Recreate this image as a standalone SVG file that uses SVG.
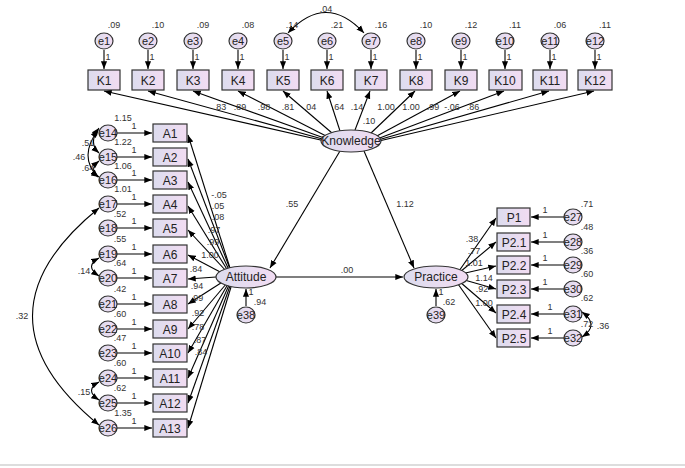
<svg xmlns="http://www.w3.org/2000/svg" width="685" height="468" viewBox="0 0 685 468">
<defs>
<linearGradient id="g" x1="0" y1="0" x2="1" y2="0"><stop offset="0" stop-color="#dcdcee"/><stop offset="1" stop-color="#f2dcf2"/></linearGradient>
<marker id="a" viewBox="0 0 10 10" refX="10" refY="5" markerWidth="7" markerHeight="7" orient="auto-start-reverse"><path d="M0,1 L10,5 L0,9 z" fill="#000"/></marker>
</defs>
<style>
rect{fill:url(#g);stroke:#333;stroke-width:1.2}
ellipse{fill:url(#g);stroke:#333;stroke-width:1.2}
text{font-family:"Liberation Sans",Arial,sans-serif;font-size:12px;fill:#222;text-anchor:middle}
.s{font-size:9px;fill:#333}
.e{font-size:11px}
#conn path,#conn line{stroke:#000;stroke-width:1.1;fill:none;marker-end:url(#a)}
#conn .c{marker-start:url(#a)}
</style>
<rect x="0" y="0" width="685" height="468" fill="#fff" style="fill:#fff;stroke:none"/>
<line x1="0" y1="465" x2="685" y2="465" stroke="#bbb"/>
<g id="conn">
<line x1="325" y1="141" x2="104" y2="91"/><line x1="326" y1="140" x2="148" y2="91"/><line x1="327" y1="139" x2="193" y2="91"/><line x1="328" y1="137" x2="238" y2="91"/><line x1="332" y1="133" x2="283" y2="91"/>
<line x1="340" y1="131" x2="327" y2="91"/><line x1="355" y1="130" x2="370" y2="91"/>
<line x1="370" y1="134" x2="415" y2="91"/><line x1="375" y1="137" x2="460" y2="91"/><line x1="377" y1="139" x2="504" y2="91"/><line x1="378" y1="140" x2="549" y2="91"/><line x1="379" y1="141" x2="594" y2="91"/>
<line x1="104" y1="50" x2="104" y2="69"/><line x1="148" y1="50" x2="148" y2="69"/><line x1="193" y1="50" x2="193" y2="69"/><line x1="238" y1="50" x2="238" y2="69"/><line x1="283" y1="50" x2="283" y2="69"/><line x1="327" y1="50" x2="327" y2="69"/><line x1="371" y1="50" x2="371" y2="69"/><line x1="416" y1="50" x2="416" y2="69"/><line x1="461" y1="50" x2="461" y2="69"/><line x1="505" y1="50" x2="505" y2="69"/><line x1="550" y1="50" x2="550" y2="69"/><line x1="595" y1="50" x2="595" y2="69"/>
<path class="c" d="M288,33 Q326,-8 364,33"/>
<line x1="340" y1="151" x2="270" y2="268"/><line x1="364" y1="151" x2="414" y2="268"/><line x1="276" y1="277" x2="403" y2="277"/>
<line x1="246" y1="306" x2="246" y2="289"/><line x1="436" y1="306" x2="436" y2="289"/>
<line x1="230" y1="268" x2="188" y2="135"/><line x1="230" y1="269" x2="188" y2="159"/><line x1="229" y1="270" x2="188" y2="182"/><line x1="228" y1="271" x2="188" y2="206"/><line x1="227" y1="272" x2="188" y2="230"/><line x1="224" y1="274" x2="188" y2="255"/><line x1="216" y1="277" x2="188" y2="279"/>
<line x1="224" y1="281" x2="188" y2="304"/><line x1="227" y1="283" x2="188" y2="329"/><line x1="228" y1="284" x2="188" y2="353"/><line x1="229" y1="285" x2="188" y2="378"/><line x1="230" y1="286" x2="188" y2="403"/><line x1="231" y1="287" x2="188" y2="428"/>
<line x1="117" y1="133" x2="152" y2="133"/><line x1="117" y1="157" x2="152" y2="157"/><line x1="117" y1="180" x2="152" y2="180"/><line x1="117" y1="204" x2="152" y2="204"/><line x1="117" y1="228" x2="152" y2="228"/><line x1="117" y1="254" x2="152" y2="254"/><line x1="117" y1="278" x2="152" y2="278"/><line x1="117" y1="304" x2="152" y2="304"/><line x1="117" y1="329" x2="152" y2="329"/><line x1="117" y1="353" x2="152" y2="353"/><line x1="117" y1="378" x2="152" y2="378"/><line x1="117" y1="403" x2="152" y2="403"/><line x1="117" y1="428" x2="152" y2="428"/>
<path class="c" d="M99,128 Q88,143 99,153"/><path class="c" d="M99,161 Q88,170 99,177"/><path class="c" d="M98,130 Q78,157 98,177"/>
<path class="c" d="M99,208 Q-34,316 99,425"/><path class="c" d="M99,258 Q84,266 99,276"/><path class="c" d="M99,382 Q84,390 99,400"/>
<line x1="459" y1="271" x2="496" y2="218"/><line x1="460" y1="272" x2="496" y2="242"/><line x1="461" y1="274" x2="496" y2="266"/><line x1="461" y1="279" x2="496" y2="289"/><line x1="460" y1="282" x2="496" y2="313"/><line x1="458" y1="284" x2="496" y2="338"/>
<line x1="564" y1="217" x2="531" y2="217"/><line x1="564" y1="242" x2="531" y2="242"/><line x1="564" y1="265" x2="531" y2="265"/><line x1="564" y1="289" x2="531" y2="289"/><line x1="564" y1="314" x2="531" y2="314"/><line x1="564" y1="338" x2="531" y2="338"/>
<path class="c" d="M582,312 Q600,325 582,337"/>
</g>
<g id="knowledge"><ellipse cx="351" cy="141" rx="30" ry="11"/><text x="351" y="145">Knowledge</text></g>
<g id="attitude"><ellipse cx="246" cy="277" rx="30" ry="11"/><text x="246" y="281">Attitude</text></g>
<g id="practice"><ellipse cx="436" cy="277" rx="32" ry="11"/><text x="436" y="281">Practice</text></g>
<g id="K1"><rect x="88" y="70" width="32" height="20"/><text x="104" y="85">K1</text></g>
<g id="K2"><rect x="132" y="70" width="32" height="20"/><text x="148" y="85">K2</text></g>
<g id="K3"><rect x="177" y="70" width="32" height="20"/><text x="193" y="85">K3</text></g>
<g id="K4"><rect x="222" y="70" width="32" height="20"/><text x="238" y="85">K4</text></g>
<g id="K5"><rect x="267" y="70" width="32" height="20"/><text x="283" y="85">K5</text></g>
<g id="K6"><rect x="311" y="70" width="32" height="20"/><text x="327" y="85">K6</text></g>
<g id="K7"><rect x="355" y="70" width="32" height="20"/><text x="371" y="85">K7</text></g>
<g id="K8"><rect x="400" y="70" width="32" height="20"/><text x="416" y="85">K8</text></g>
<g id="K9"><rect x="445" y="70" width="32" height="20"/><text x="461" y="85">K9</text></g>
<g id="K10"><rect x="489" y="70" width="33" height="20"/><text x="505" y="85">K10</text></g>
<g id="K11"><rect x="533" y="70" width="34" height="20"/><text x="550" y="85">K11</text></g>
<g id="K12"><rect x="578" y="70" width="34" height="20"/><text x="595" y="85">K12</text></g>
<g id="e1"><ellipse cx="104" cy="41" rx="9" ry="8"/><text class="e" x="104" y="45">e1</text><text class="s" x="114" y="28">.09</text><text class="s" x="108" y="60">1</text></g>
<g id="e2"><ellipse cx="148" cy="41" rx="9" ry="8"/><text class="e" x="148" y="45">e2</text><text class="s" x="158" y="28">.10</text><text class="s" x="152" y="60">1</text></g>
<g id="e3"><ellipse cx="193" cy="41" rx="9" ry="8"/><text class="e" x="193" y="45">e3</text><text class="s" x="203" y="28">.09</text><text class="s" x="197" y="60">1</text></g>
<g id="e4"><ellipse cx="238" cy="41" rx="9" ry="8"/><text class="e" x="238" y="45">e4</text><text class="s" x="248" y="28">.08</text><text class="s" x="242" y="60">1</text></g>
<g id="e5"><ellipse cx="283" cy="41" rx="9" ry="8"/><text class="e" x="283" y="45">e5</text><text class="s" x="292" y="28">.14</text><text class="s" x="287" y="60">1</text></g>
<g id="e6"><ellipse cx="327" cy="41" rx="9" ry="8"/><text class="e" x="327" y="45">e6</text><text class="s" x="337" y="28">.21</text><text class="s" x="331" y="60">1</text></g>
<g id="e7"><ellipse cx="371" cy="41" rx="9" ry="8"/><text class="e" x="371" y="45">e7</text><text class="s" x="381" y="28">.16</text><text class="s" x="375" y="60">1</text></g>
<g id="e8"><ellipse cx="416" cy="41" rx="9" ry="8"/><text class="e" x="416" y="45">e8</text><text class="s" x="426" y="28">.10</text><text class="s" x="420" y="60">1</text></g>
<g id="e9"><ellipse cx="461" cy="41" rx="9" ry="8"/><text class="e" x="461" y="45">e9</text><text class="s" x="471" y="28">.12</text><text class="s" x="465" y="60">1</text></g>
<g id="e10"><ellipse cx="505" cy="41" rx="9" ry="8"/><text class="e" x="505" y="45">e10</text><text class="s" x="515" y="28">.11</text><text class="s" x="509" y="60">1</text></g>
<g id="e11"><ellipse cx="550" cy="41" rx="9" ry="8"/><text class="e" x="550" y="45">e11</text><text class="s" x="560" y="28">.06</text><text class="s" x="554" y="60">1</text></g>
<g id="e12"><ellipse cx="595" cy="41" rx="9" ry="8"/><text class="e" x="595" y="45">e12</text><text class="s" x="605" y="28">.11</text><text class="s" x="599" y="60">1</text></g>
<g id="klabels"><text class="s" x="326" y="12">.04</text>
<text class="s" x="220" y="110">.83</text><text class="s" x="240" y="110">.89</text><text class="s" x="264" y="110">.98</text><text class="s" x="288" y="110">.81</text><text class="s" x="310" y="110">.04</text><text class="s" x="338" y="110">.64</text><text class="s" x="357" y="110">.14</text><text class="s" x="369" y="124">.10</text><text class="s" x="386" y="110">1.00</text><text class="s" x="411" y="110">1.00</text><text class="s" x="433" y="110">.99</text><text class="s" x="452" y="110">-.06</text><text class="s" x="473" y="110">.86</text>
<text class="s" x="292" y="207">.55</text><text class="s" x="405" y="207">1.12</text><text class="s" x="347" y="273">.00</text></g>
<g id="A1"><rect x="153" y="124" width="34" height="18"/><text x="170" y="138">A1</text></g>
<g id="A2"><rect x="153" y="148" width="34" height="18"/><text x="170" y="162">A2</text></g>
<g id="A3"><rect x="153" y="171" width="34" height="18"/><text x="170" y="185">A3</text></g>
<g id="A4"><rect x="153" y="195" width="34" height="18"/><text x="170" y="209">A4</text></g>
<g id="A5"><rect x="153" y="219" width="34" height="18"/><text x="170" y="233">A5</text></g>
<g id="A6"><rect x="153" y="245" width="34" height="18"/><text x="170" y="259">A6</text></g>
<g id="A7"><rect x="153" y="269" width="34" height="18"/><text x="170" y="283">A7</text></g>
<g id="A8"><rect x="153" y="295" width="34" height="18"/><text x="170" y="309">A8</text></g>
<g id="A9"><rect x="153" y="320" width="34" height="18"/><text x="170" y="334">A9</text></g>
<g id="A10"><rect x="153" y="344" width="34" height="18"/><text x="170" y="358">A10</text></g>
<g id="A11"><rect x="153" y="369" width="34" height="18"/><text x="170" y="383">A11</text></g>
<g id="A12"><rect x="153" y="394" width="34" height="18"/><text x="170" y="408">A12</text></g>
<g id="A13"><rect x="153" y="419" width="34" height="18"/><text x="170" y="433">A13</text></g>
<g id="e14"><ellipse cx="108" cy="133" rx="9" ry="8"/><text class="e" x="108" y="137">e14</text><text class="s" x="123" y="121">1.15</text><text class="s" x="134" y="129">1</text></g>
<g id="e15"><ellipse cx="108" cy="157" rx="9" ry="8"/><text class="e" x="108" y="161">e15</text><text class="s" x="123" y="145">1.22</text><text class="s" x="134" y="153">1</text></g>
<g id="e16"><ellipse cx="108" cy="180" rx="9" ry="8"/><text class="e" x="108" y="184">e16</text><text class="s" x="123" y="169">1.06</text><text class="s" x="134" y="176">1</text></g>
<g id="e17"><ellipse cx="108" cy="204" rx="9" ry="8"/><text class="e" x="108" y="208">e17</text><text class="s" x="123" y="192">1.01</text><text class="s" x="134" y="200">1</text></g>
<g id="e18"><ellipse cx="108" cy="228" rx="9" ry="8"/><text class="e" x="108" y="232">e18</text><text class="s" x="120" y="217">.52</text><text class="s" x="134" y="224">1</text></g>
<g id="e19"><ellipse cx="108" cy="254" rx="9" ry="8"/><text class="e" x="108" y="258">e19</text><text class="s" x="120" y="242">.55</text><text class="s" x="134" y="250">1</text></g>
<g id="e20"><ellipse cx="108" cy="278" rx="9" ry="8"/><text class="e" x="108" y="282">e20</text><text class="s" x="120" y="266">.64</text><text class="s" x="134" y="274">1</text></g>
<g id="e21"><ellipse cx="108" cy="304" rx="9" ry="8"/><text class="e" x="108" y="308">e21</text><text class="s" x="120" y="292">.42</text><text class="s" x="134" y="300">1</text></g>
<g id="e22"><ellipse cx="108" cy="329" rx="9" ry="8"/><text class="e" x="108" y="333">e22</text><text class="s" x="120" y="317">.60</text><text class="s" x="134" y="325">1</text></g>
<g id="e23"><ellipse cx="108" cy="353" rx="9" ry="8"/><text class="e" x="108" y="357">e23</text><text class="s" x="120" y="341">.47</text><text class="s" x="134" y="349">1</text></g>
<g id="e24"><ellipse cx="108" cy="378" rx="9" ry="8"/><text class="e" x="108" y="382">e24</text><text class="s" x="120" y="366">.60</text><text class="s" x="134" y="374">1</text></g>
<g id="e25"><ellipse cx="108" cy="403" rx="9" ry="8"/><text class="e" x="108" y="407">e25</text><text class="s" x="120" y="391">.62</text><text class="s" x="134" y="399">1</text></g>
<g id="e26"><ellipse cx="108" cy="428" rx="9" ry="8"/><text class="e" x="108" y="432">e26</text><text class="s" x="123" y="416">1.35</text><text class="s" x="134" y="424">1</text></g>
<g id="alabels"><text class="s" x="79" y="160">.46</text><text class="s" x="88" y="146">.51</text><text class="s" x="88" y="171">.64</text><text class="s" x="22" y="319">.32</text><text class="s" x="84" y="274">.14</text><text class="s" x="84" y="395">.15</text>
<text class="s" x="219" y="198">-.05</text><text class="s" x="218" y="209">.05</text><text class="s" x="218" y="220">.08</text><text class="s" x="214" y="233">.97</text><text class="s" x="213" y="245">.99</text><text class="s" x="210" y="258">1.00</text><text class="s" x="196" y="272">.84</text><text class="s" x="197" y="289">.94</text><text class="s" x="197" y="301">.99</text><text class="s" x="198" y="316">.92</text><text class="s" x="198" y="330">.78</text><text class="s" x="200" y="343">.87</text><text class="s" x="201" y="355">.84</text></g>
<g id="e38"><ellipse cx="246" cy="315" rx="9" ry="8"/><text class="e" x="246" y="319">e38</text><text class="s" x="251" y="295">1</text><text class="s" x="260" y="305">.94</text></g>
<g id="e39"><ellipse cx="436" cy="315" rx="9" ry="8"/><text class="e" x="436" y="319">e39</text><text class="s" x="441" y="295">1</text><text class="s" x="449" y="305">.62</text></g>
<g id="P1"><rect x="497" y="208" width="33" height="18"/><text x="514" y="222">P1</text></g>
<g id="P2.1"><rect x="497" y="233" width="33" height="18"/><text x="514" y="247">P2.1</text></g>
<g id="P2.2"><rect x="497" y="256" width="33" height="18"/><text x="514" y="270">P2.2</text></g>
<g id="P2.3"><rect x="497" y="280" width="33" height="18"/><text x="514" y="294">P2.3</text></g>
<g id="P2.4"><rect x="497" y="305" width="33" height="18"/><text x="514" y="319">P2.4</text></g>
<g id="P2.5"><rect x="497" y="329" width="33" height="18"/><text x="514" y="343">P2.5</text></g>
<g id="e27"><ellipse cx="573" cy="217" rx="9" ry="8"/><text class="e" x="573" y="221">e27</text><text class="s" x="587" y="207">.71</text><text class="s" x="545" y="213">1</text></g>
<g id="e28"><ellipse cx="573" cy="242" rx="9" ry="8"/><text class="e" x="573" y="246">e28</text><text class="s" x="587" y="230">.48</text><text class="s" x="545" y="238">1</text></g>
<g id="e29"><ellipse cx="573" cy="265" rx="9" ry="8"/><text class="e" x="573" y="269">e29</text><text class="s" x="587" y="254">.36</text><text class="s" x="545" y="261">1</text></g>
<g id="e30"><ellipse cx="573" cy="289" rx="9" ry="8"/><text class="e" x="573" y="293">e30</text><text class="s" x="587" y="277">.60</text><text class="s" x="545" y="285">1</text></g>
<g id="e31"><ellipse cx="573" cy="314" rx="9" ry="8"/><text class="e" x="573" y="318">e31</text><text class="s" x="587" y="301">.62</text><text class="s" x="550" y="310">1</text></g>
<g id="e32"><ellipse cx="573" cy="338" rx="9" ry="8"/><text class="e" x="573" y="342">e32</text><text class="s" x="550" y="334">1</text></g>
<g id="plabels"><text class="s" x="587" y="327">.72</text><text class="s" x="603" y="329">.36</text>
<text class="s" x="472" y="242">.38</text><text class="s" x="474" y="254">.77</text><text class="s" x="474" y="266">1.01</text><text class="s" x="484" y="281">1.14</text><text class="s" x="482" y="292">.92</text><text class="s" x="484" y="306">1.00</text></g>
</svg>
